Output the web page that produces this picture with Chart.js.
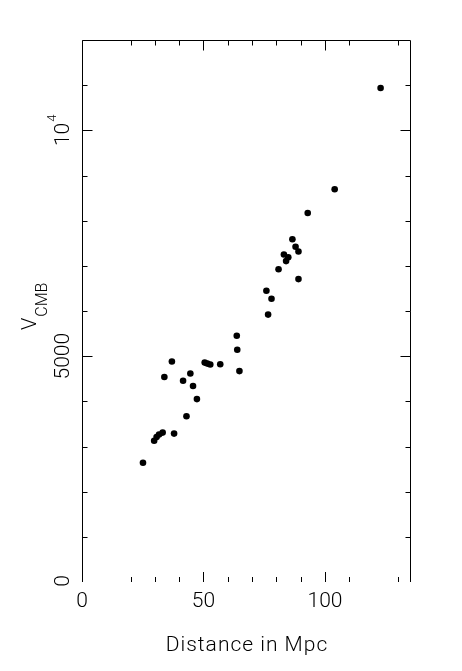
<!DOCTYPE html>
<html>
<head>
<meta charset="utf-8">
<script src="https://cdn.jsdelivr.net/npm/chart.js@4/dist/chart.umd.min.js"></script>
<style>
  html, body { margin: 0; padding: 0; background: #fff; }
  canvas { display: block; }
</style>
</head>
<body>
<canvas id="c" width="462" height="671"></canvas>
<script>
// Distance in Mpc
const distances = [25.1, 29.7, 30.7, 31.7, 33.2, 37.9, 33.9, 37.0, 41.6, 43.0, 44.6, 45.7, 47.3, 50.5, 51.6, 52.8, 56.9, 63.7, 63.9, 64.8, 75.9, 76.6, 78.0, 80.9, 83.1, 84.0, 84.9, 86.6, 87.9, 89.1, 89.1, 92.9, 104.0, 122.9];
// V_CMB (km/s)
const velocities = [2639, 3126, 3210, 3266, 3308, 3286, 4539, 4882, 4455, 3669, 4616, 4339, 4049, 4858, 4835, 4815, 4822, 5451, 5141, 4669, 6447, 5920, 6270, 6923, 7251, 7105, 7189, 7587, 7421, 7317, 6706, 8170, 8694, 10937];

const xMajorTicks = [0, 50, 100];
const xMajorLabels = ['0', '50', '100'];
const xMinorTicks = [20, 30, 40, 60, 70, 80, 90, 110, 130];
const yMajorTicks = [5000, 10000];
const yMinorTicks = [1000, 2000, 3000, 4000, 6000, 7000, 8000, 9000, 11000];
const yLabelValues = [0, 5000, 10000];

const xTitle = 'Distance in Mpc';
const yTitleMain = 'V';
const yTitleSub = 'CMB';

const FAM = 'Roboto, "Liberation Sans", sans-serif';

const framePlugin = {
  id: 'frame',
  afterDraw(chart) {
    const ctx = chart.ctx;
    const xs = chart.scales.x, ys = chart.scales.y;
    const a = chart.chartArea;
    const L = Math.round(a.left) + 0.5, R = Math.round(a.right) + 0.5;
    const T = Math.round(a.top) + 0.5, B = Math.round(a.bottom);
    ctx.save();
    ctx.strokeStyle = '#000';
    ctx.lineWidth = 1;
    ctx.beginPath();
    // left, top, right (no bottom line)
    ctx.moveTo(L, B); ctx.lineTo(L, T); ctx.lineTo(R, T); ctx.lineTo(R, B);
    // x ticks top & bottom
    const xt = (v, len) => {
      const p = Math.round(xs.getPixelForValue(v)) + 0.5;
      ctx.moveTo(p, T); ctx.lineTo(p, T + len);
      ctx.moveTo(p, B); ctx.lineTo(p, B - len);
    };
    xMajorTicks.forEach(v => xt(v, 10));
    xMinorTicks.forEach(v => xt(v, 5));
    const yt = (v, len) => {
      const p = Math.round(ys.getPixelForValue(v)) + 0.5;
      ctx.moveTo(L, p); ctx.lineTo(L + len, p);
      ctx.moveTo(R, p); ctx.lineTo(R - len, p);
    };
    yMajorTicks.forEach(v => yt(v, 10));
    yMinorTicks.forEach(v => yt(v, 5));
    ctx.stroke();

    ctx.fillStyle = '#000';
    // x tick labels
    ctx.font = '300 21px ' + FAM;
    ctx.textAlign = 'center';
    ctx.textBaseline = 'alphabetic';
    xMajorTicks.forEach((v, i) => {
      ctx.fillText(xMajorLabels[i], xs.getPixelForValue(v), 607);
    });
    // x title
    ctx.save();
    ctx.letterSpacing = '1px';
    ctx.fillText(xTitle, (a.left + a.right) / 2 + 1, 651);
    ctx.restore();

    // y tick labels (rotated)
    yLabelValues.forEach(v => {
      const p = ys.getPixelForValue(v);
      ctx.save();
      ctx.translate(69, v === 0 ? p - 1 : p);
      ctx.rotate(-Math.PI / 2);
      if (v === 10000) {
        ctx.font = '300 21px ' + FAM;
        const w1 = ctx.measureText('10').width;
        ctx.font = '300 13px ' + FAM;
        const w2 = ctx.measureText('4').width;
        const tot = w1 + w2 + 1;
        ctx.textAlign = 'left';
        ctx.font = '300 21px ' + FAM;
        ctx.fillText('10', -tot / 2, 0);
        ctx.font = '300 13px ' + FAM;
        ctx.fillText('4', -tot / 2 + w1 + 1, -13);
      } else {
        ctx.textAlign = 'center';
        ctx.font = '300 21px ' + FAM;
        ctx.fillText(String(v), 0, 0);
      }
      ctx.restore();
    });

    // y title V_CMB
    ctx.save();
    ctx.translate(36, 330);
    ctx.rotate(-Math.PI / 2);
    ctx.textAlign = 'left';
    ctx.font = '300 20px ' + FAM;
    const wV = ctx.measureText(yTitleMain).width;
    ctx.fillText(yTitleMain, 0, 0);
    ctx.font = '300 16px ' + FAM;
    ctx.fillText(yTitleSub, wV + 1, 11);
    ctx.restore();
    ctx.restore();
  }
};

new Chart(document.getElementById('c'), {
  type: 'scatter',
  data: {
    datasets: [{
      data: distances.map((d, i) => ({ x: d, y: velocities[i] })),
      backgroundColor: '#000',
      borderWidth: 0,
      pointRadius: 3.3,
      pointHoverRadius: 3.3
    }]
  },
  options: {
    responsive: false,
    animation: false,
    devicePixelRatio: 1,
    layout: { padding: { left: 82, right: 52, top: 40, bottom: 89 } },
    plugins: { legend: { display: false }, tooltip: { enabled: false } },
    scales: {
      x: { type: 'linear', min: 0, max: 135, display: false },
      y: { type: 'linear', min: 0, max: 12000, display: false }
    }
  },
  plugins: [framePlugin]
});
</script>
</body>
</html>
